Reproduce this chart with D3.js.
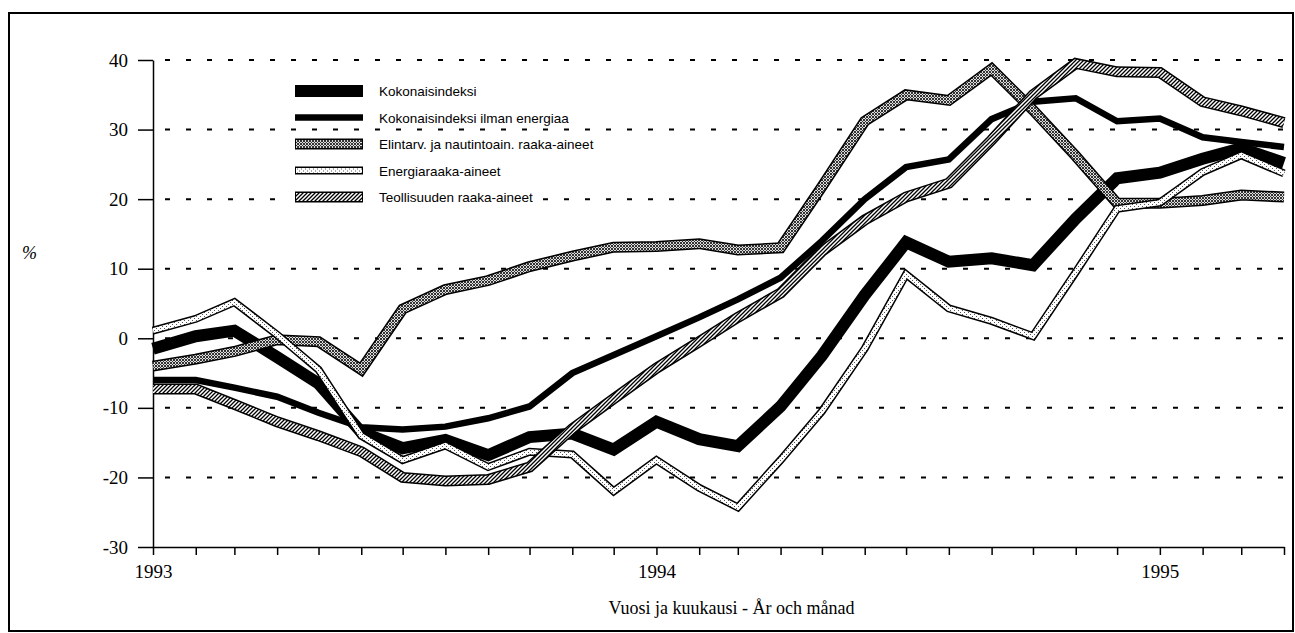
<!DOCTYPE html>
<html>
<head>
<meta charset="utf-8">
<script src="https://cdn.jsdelivr.net/npm/d3@7"></script>
<style>
  body { margin: 0; background: #fff; }
  svg { display: block; }
</style>
</head>
<body>
<svg id="drawing_region"></svg>
<script>
// monthly values 1993-01 .. 1995-04, % change
const startMonth = new Date(1993, 0, 1);
const kokonais = [-1.5, 0.3, 1.1, -2.7, -6.5, -13.5, -15.8, -14.6, -16.8, -14.2, -13.7, -16, -12, -14.5, -15.5, -9.8, -2.5, 6.2, 13.8, 11, 11.5, 10.5, 17.2, 23, 23.8, 25.8, 27.3, 25.2];
const ilmanEnergiaa = [-6, -6, -7.1, -8.4, -10.7, -12.8, -13.1, -12.7, -11.5, -9.8, -5, -2.4, 0.3, 3, 5.6, 8.7, 14, 20, 24.6, 25.7, 31.5, 34, 34.5, 31.2, 31.6, 28.9, 28.2, 27.5];
const elintarvikkeet = [-4, -3, -1.9, -0.2, -0.5, -4.5, 4.2, 7, 8.3, 10.3, 11.8, 13.1, 13.2, 13.6, 12.7, 13, 21.8, 31.2, 35, 34.2, 38.7, 32.8, 26.2, 19.4, 19.4, 19.8, 20.6, 20.3];
const energia = [1.1, 2.8, 5.2, 0.5, -4.5, -14, -17.5, -15.4, -18.5, -16.3, -16.7, -22, -17.5, -21.5, -24.3, -17.5, -10.5, -1.5, 9.2, 4.3, 2.5, 0.3, 9.5, 18.6, 19.5, 23.9, 26.3, 23.7];
const teollisuus = [-7.3, -7.3, -9.5, -12, -14, -16.3, -20, -20.5, -20.3, -18.5, -13, -8.7, -4.3, -0.5, 3, 6.5, 12.5, 17, 20.3, 22.3, 28.5, 35, 39.5, 38.3, 38.2, 34, 32.7, 31];

const seriesNames = ['Kokonaisindeksi', 'Kokonaisindeksi ilman energiaa', 'Elintarv. ja nautintoain. raaka-aineet', 'Energiaraaka-aineet', 'Teollisuuden raaka-aineet'];
const yTicks = [-30, -20, -10, 0, 10, 20, 30, 40];
const xTitle = 'Vuosi ja kuukausi - År och månad';
const yTitle = '%';

const W = 1295, H = 633;
const margin = { left: 153, right: 11, top: 60, bottom: 86 };

const svg = d3.select('#drawing_region').attr('width', W).attr('height', H);

// patterns
const defs = svg.append('defs');
const stip = defs.append('pattern').attr('id', 'stipple')
  .attr('patternUnits', 'userSpaceOnUse').attr('width', 3).attr('height', 3);
stip.append('rect').attr('width', 3).attr('height', 3).attr('fill', '#ddd');
[[0, 0], [1, 1], [2, 2], [2, 0], [0, 2]].forEach(p => stip.append('rect')
  .attr('x', p[0]).attr('y', p[1]).attr('width', 1).attr('height', 1).attr('fill', '#333'));

const dots = defs.append('pattern').attr('id', 'dots')
  .attr('patternUnits', 'userSpaceOnUse').attr('width', 4).attr('height', 4);
dots.append('rect').attr('width', 4).attr('height', 4).attr('fill', '#fff');
[[0, 0], [2, 2]].forEach(p => dots.append('rect')
  .attr('x', p[0]).attr('y', p[1]).attr('width', 1).attr('height', 1).attr('fill', '#555'));

const hatch = defs.append('pattern').attr('id', 'hatch')
  .attr('patternUnits', 'userSpaceOnUse').attr('width', 4).attr('height', 4);
hatch.append('rect').attr('width', 4).attr('height', 4).attr('fill', '#fff');
hatch.append('path').attr('d', 'M-1,5 L5,-1 M-1,1 L1,-1 M3,5 L5,3')
  .attr('stroke', '#000').attr('stroke-width', 1.3);

// frame
svg.append('rect').attr('x', 9).attr('y', 13).attr('width', 1284).attr('height', 618)
  .attr('fill', 'none').attr('stroke', '#000').attr('stroke-width', 2);

const months = d3.range(kokonais.length).map(i => d3.timeMonth.offset(startMonth, i));

const x = d3.scaleTime()
  .domain([months[0], months[months.length - 1]])
  .range([margin.left, W - margin.right]);
const y = d3.scaleLinear()
  .domain([-30, 40])
  .range([H - margin.bottom, margin.top]);

// dashed grid
svg.append('g').selectAll('line')
  .data(yTicks.filter(d => d > -30))
  .join('line')
  .attr('x1', margin.left + 12).attr('x2', W - margin.right)
  .attr('y1', d => y(d)).attr('y2', d => y(d))
  .attr('stroke', '#000').attr('stroke-width', 2)
  .attr('stroke-dasharray', '5,16');

// axes
const yAxis = svg.append('g')
  .attr('transform', `translate(${margin.left},0)`)
  .call(d3.axisLeft(y).tickValues(yTicks).tickSize(15).tickSizeOuter(0).tickPadding(10)
    .tickFormat(d => String(d)));
const xAxis = svg.append('g')
  .attr('transform', `translate(0,${y(-30)})`)
  .call(d3.axisBottom(x).ticks(d3.timeMonth.every(1)).tickSize(8).tickSizeOuter(0).tickPadding(10)
    .tickFormat(d => d.getMonth() === 0 ? d3.timeFormat('%Y')(d) : ''));
[yAxis, xAxis].forEach(a => {
  a.selectAll('path, line').attr('stroke', '#000').attr('stroke-width', 1.5);
  a.selectAll('text').attr('font-family', '"Liberation Serif", "Times New Roman", serif')
    .attr('font-size', 19).attr('fill', '#000');
});

svg.append('text').attr('x', (margin.left + W - margin.right) / 2 + 13).attr('y', 614)
  .attr('text-anchor', 'middle')
  .attr('font-family', '"Liberation Serif", "Times New Roman", serif').attr('font-size', 18)
  .text(xTitle);
svg.append('text').attr('x', 22).attr('y', 259)
  .attr('font-family', '"Liberation Serif", "Times New Roman", serif').attr('font-style', 'italic')
  .attr('font-size', 18)
  .text(yTitle);

// series styles: outer black width, inner fill width, inner paint
const styles = [
  { w: 12, inner: 0, paint: null },
  { w: 6.5, inner: 0, paint: null },
  { w: 11, inner: 8, paint: 'url(#stipple)' },
  { w: 8, inner: 5, paint: 'url(#dots)' },
  { w: 11, inner: 8, paint: 'url(#hatch)' }
];
const seriesData = [kokonais, ilmanEnergiaa, elintarvikkeet, energia, teollisuus];

const line = d3.line()
  .x((d, i) => x(months[i]))
  .y(d => y(d));

const lines = svg.append('g');
seriesData.forEach((vals, k) => {
  const s = styles[k];
  const g = lines.append('g');
  g.append('path').attr('d', line(vals))
    .attr('fill', 'none').attr('stroke', '#000').attr('stroke-width', s.w)
    .attr('stroke-linejoin', 'miter').attr('stroke-miterlimit', 3);
  if (s.paint) {
    g.append('path').attr('d', line(vals))
      .attr('fill', 'none').attr('stroke', s.paint).attr('stroke-width', s.inner)
      .attr('stroke-linejoin', 'miter').attr('stroke-miterlimit', 3);
  }
});

// legend
const legend = svg.append('g').attr('transform', 'translate(295,91)');
seriesNames.forEach((name, k) => {
  const s = styles[k];
  const g = legend.append('g').attr('transform', `translate(0,${k * 26.5})`);
  const bg = g.append('rect').attr('x', -4).attr('y', -9).attr('height', 18).attr('fill', '#fff');
  g.append('line').attr('x1', 0).attr('x2', 68).attr('y1', 0).attr('y2', 0)
    .attr('stroke', '#000').attr('stroke-width', s.w);
  if (s.paint) {
    g.append('line').attr('x1', 1).attr('x2', 67).attr('y1', 0).attr('y2', 0)
      .attr('stroke', s.paint).attr('stroke-width', s.inner);
  }
  const t = g.append('text').attr('x', 84).attr('y', 5)
    .attr('font-family', '"Liberation Sans", Arial, sans-serif').attr('font-size', 13.5)
    .attr('fill', '#000')
    .text(name);
  bg.attr('width', 84 + t.node().getComputedTextLength() + 8);
});
</script>
</body>
</html>
